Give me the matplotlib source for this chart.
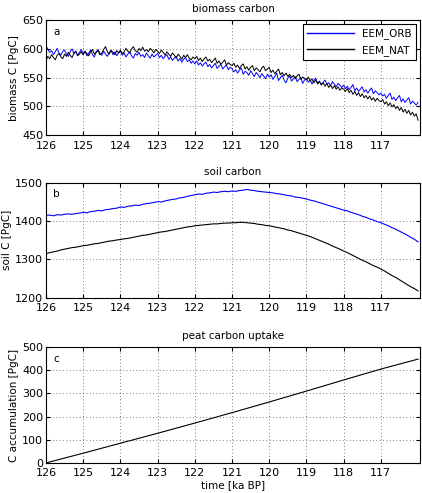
import numpy as np
import matplotlib.pyplot as plt

# time axis for the biomass runs, 126 -> 116 ka BP every 0.05 ka
t_bio = np.round(np.linspace(126.0, 116.0, 201), 2)
# soil runs, every 0.1 ka
t_soil = np.round(np.linspace(126.0, 116.0, 101), 1)

biomass_orb = [606, 599, 594, 597, 590, 595, 601, 593, 589, 596, 598, 591, 587, 595, 600, 592, 596, 589, 594, 599,
               591, 596, 588, 593, 598, 590, 586, 595, 599, 592, 589, 596, 591, 587, 594, 597, 590, 595, 588, 593,
               596, 589, 593, 586, 591, 595, 588, 584, 592, 589, 594, 587, 590, 585, 593, 588, 584, 591, 586, 589,
               592, 585, 589, 583, 587, 590, 582, 586, 580, 584, 587, 579, 583, 577, 582, 585, 578, 581, 575, 579,
               574, 579, 572, 576, 570, 574, 577, 569, 573, 567, 571, 575, 566, 570, 573, 565, 569, 572, 564, 568,
               566, 560, 564, 558, 563, 567, 556, 561, 559, 554, 562, 557, 552, 559, 555, 550, 557, 553, 548, 556,
               551, 555, 547, 552, 558, 545, 550, 554, 546, 541, 549, 553, 544, 548, 552, 543, 547, 550, 540, 546,
               548, 542, 546, 539, 545, 549, 540, 544, 537, 542, 546, 538, 541, 536, 543, 539, 534, 540, 537, 533,
               537, 531, 535, 529, 533, 538, 527, 532, 526, 530, 534, 525, 529, 523, 528, 532, 522, 527, 524, 520,
               523, 518, 521, 514, 519, 523, 512, 516, 510, 515, 519, 508, 513, 507, 511, 515, 504, 509, 506, 502,
               507]
biomass_nat = [580, 587, 583, 590, 585, 581, 589, 592, 586, 583, 591, 587, 594, 589, 585, 592, 596, 588, 591, 595,
               590, 596, 592, 588, 595, 599, 591, 594, 597, 590, 593, 599, 604, 595, 591, 598, 594, 590, 597, 593,
               598, 592, 595, 601, 596, 593, 600, 604, 597, 594, 601, 597, 603, 596, 599, 595, 601, 598, 593, 599,
               596, 592, 598, 594, 589, 595, 591, 587, 593, 589, 584, 591, 587, 582, 589, 585, 590, 584, 581, 586,
               583, 587, 580, 584, 578, 583, 586, 579, 582, 576, 580, 584, 575, 579, 573, 577, 581, 572, 576, 573,
               571, 575, 568, 572, 566, 571, 574, 565, 569, 563, 568, 571, 562, 567, 564, 560, 567, 570, 562, 565,
               568, 559, 563, 557, 561, 565, 555, 559, 553, 558, 552, 556, 550, 554, 548, 553, 556, 547, 551, 549,
               546, 551, 544, 548, 541, 546, 539, 543, 538, 541, 535, 540, 533, 537, 531, 536, 530, 534, 528, 532,
               530, 526, 531, 524, 528, 521, 526, 519, 524, 517, 522, 515, 519, 513, 518, 511, 515, 509, 514, 510,
               508, 512, 504, 508, 501, 506, 499, 503, 496, 500, 493, 498, 490, 495, 488, 493, 485, 490, 483, 487,
               476]

soil_orb = [1415, 1416, 1414, 1417, 1416, 1418, 1419, 1418, 1420, 1421,
            1423, 1422, 1425, 1426, 1428, 1427, 1430, 1431, 1433, 1434,
            1437, 1436, 1439, 1440, 1442, 1441, 1444, 1446, 1447, 1449,
            1451, 1450, 1453, 1455, 1457, 1458, 1461, 1462, 1465, 1467,
            1469, 1471, 1470, 1473, 1474, 1476, 1475, 1477, 1478, 1477,
            1479, 1478, 1480, 1481, 1483, 1481, 1480, 1478, 1477, 1476,
            1475, 1474, 1472, 1471, 1469, 1467, 1466, 1463, 1462, 1460,
            1458, 1455, 1453, 1450, 1447, 1444, 1441, 1438, 1435, 1432,
            1429, 1427, 1423, 1420, 1417, 1413, 1410, 1406, 1403, 1399,
            1396, 1392, 1388, 1383, 1379, 1374, 1369, 1364, 1358, 1353,
            1346]
soil_nat = [1315, 1318, 1320, 1322, 1325, 1327, 1329, 1331, 1332, 1334,
            1336, 1337, 1339, 1341, 1342, 1344, 1346, 1348, 1349, 1351,
            1352, 1354, 1355, 1357, 1359, 1361, 1363, 1364, 1366, 1368,
            1370, 1372, 1373, 1375, 1377, 1379, 1381, 1383, 1385, 1386,
            1388, 1389, 1390, 1391, 1392, 1393, 1393, 1394, 1395, 1395,
            1396, 1396, 1397, 1397, 1396, 1395, 1394, 1392, 1391, 1389,
            1388, 1386, 1384, 1382, 1380, 1377, 1375, 1372, 1369, 1366,
            1363, 1360, 1356, 1352, 1348, 1344, 1340, 1335, 1331, 1327,
            1322, 1318, 1313, 1308, 1303, 1298, 1294, 1289, 1284, 1280,
            1275, 1270, 1264, 1258, 1253, 1247, 1241, 1235, 1229, 1224,
            1218]

t_peat = [126, 125, 124, 123, 122, 121, 120, 119, 118, 117, 116]
peat = [0, 42, 85, 128, 172, 217, 263, 310, 358, 405, 448]

xticks = [126, 125, 124, 123, 122, 121, 120, 119, 118, 117]

plt.rcParams['font.family'] = 'DejaVu Sans'
plt.rcParams['font.size'] = 7.5

fig = plt.figure(figsize=(4.22, 4.93), dpi=100)
ax1 = fig.add_axes([0.109, 0.726, 0.886, 0.233])
ax2 = fig.add_axes([0.109, 0.396, 0.886, 0.233])
ax3 = fig.add_axes([0.109, 0.061, 0.886, 0.235])

ax1.plot(t_bio, biomass_orb, color='#0000ff', lw=0.7, label='EEM_ORB')
ax1.plot(t_bio, biomass_nat, color='black', lw=0.7, label='EEM_NAT')
ax1.set_ylim(450, 650)
ax1.set_yticks([450, 500, 550, 600, 650])
ax1.set_ylabel('biomass C [PgC]', labelpad=2)
ax1.set_title('biomass carbon', fontsize=7.5, pad=6)
leg = ax1.legend(loc='upper right', fancybox=False, edgecolor='black',
                 framealpha=1, borderaxespad=0.4, handlelength=4.5)
leg.get_frame().set_linewidth(0.8)
for ln in leg.get_lines():
    ln.set_linewidth(1.0)

ax2.plot(t_soil, soil_orb, color='#0000ff', lw=0.8)
ax2.plot(t_soil, soil_nat, color='black', lw=0.8)
ax2.set_ylim(1200, 1500)
ax2.set_yticks([1200, 1300, 1400, 1500])
ax2.set_ylabel('soil C [PgC]', labelpad=2)
ax2.set_title('soil carbon', fontsize=7.5, pad=6)

ax3.plot(t_peat, peat, color='black', lw=0.8)
ax3.set_ylim(0, 500)
ax3.set_yticks([0, 100, 200, 300, 400, 500])
ax3.set_ylabel('C accumulation [PgC]', labelpad=2)
ax3.set_xlabel('time [ka BP]', labelpad=1)
ax3.set_title('peat carbon uptake', fontsize=7.5, pad=6)

for ax, lab in zip([ax1, ax2, ax3], ['a', 'b', 'c']):
    ax.set_xlim(126, 115.95)
    ax.set_xticks(xticks)
    ax.grid(True, linestyle=(0, (1, 3)), color='#555555', lw=0.6)
    ax.tick_params(direction='in', length=3, top=True, right=True, labelsize=8)
    ax.tick_params(axis='x', pad=4)
    ax.tick_params(axis='y', pad=2)
    ax.text(0.02, 0.9, lab, transform=ax.transAxes, ha='left', va='center')
    for s in ax.spines.values():
        s.set_linewidth(0.8)

fig.savefig('out.png', dpi=100)
